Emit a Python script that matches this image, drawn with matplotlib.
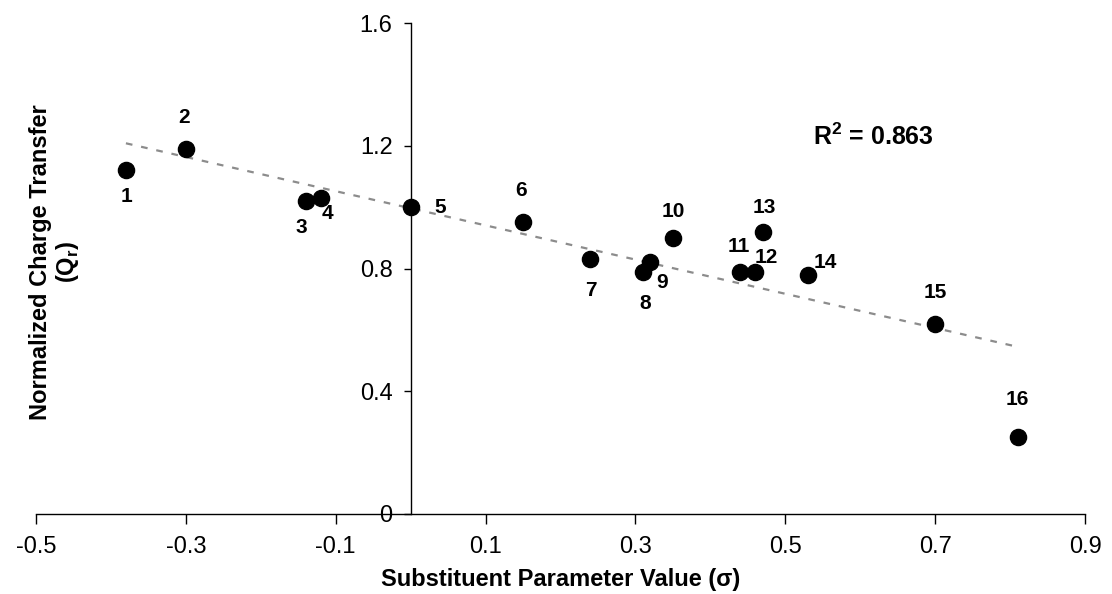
import numpy as np
import matplotlib
matplotlib.use("Agg")
import matplotlib.pyplot as plt

plt.rcParams['font.family'] = ['Liberation Sans', 'DejaVu Sans']
plt.rcParams['mathtext.fontset'] = 'custom'
plt.rcParams['mathtext.rm'] = 'Liberation Sans'
plt.rcParams['mathtext.bf'] = 'Liberation Sans:bold'

# substituent parameter (sigma) and normalized charge transfer
sigma = [-0.38, -0.30, -0.14, -0.12, 0.00, 0.15, 0.24, 0.31,
         0.32, 0.35, 0.44, 0.46, 0.47, 0.53, 0.70, 0.81]
qr = [1.12, 1.19, 1.02, 1.03, 1.00, 0.95, 0.83, 0.79,
      0.82, 0.90, 0.79, 0.79, 0.92, 0.78, 0.62, 0.25]
labels = [str(i) for i in range(1, 17)]
r2_text = 'R$^\\mathbf{2}$ = 0.863'

# label offsets (pixels) relative to each point
offsets = [(1, -26), (-2, 31), (-4, -27), (7, -16), (30, 0), (-2, 32),
           (0, -31), (2, -32), (12, -20), (0, 26), (-2, 25), (11, 14),
           (2, 24), (18, 12), (0, 31), (0, 38)]

fig = plt.figure(figsize=(11.12, 5.94), dpi=100)
ax = fig.add_axes([36 / 1112, 80 / 594, 1049 / 1112, 491 / 594])

# trendline
k, b = np.polyfit(sigma, qr, 1)
xs = np.array([min(sigma), max(sigma)])
ax.plot(xs, k * xs + b, color='#8c8c8c', lw=1.6, linestyle=(0, (3, 4)), zorder=2)

ax.scatter(sigma, qr, s=135, color='black', zorder=3)

for x, y, t, (dx, dy) in zip(sigma, qr, labels, offsets):
    ax.annotate(t, (x, y), xytext=(dx, dy), textcoords='offset pixels',
                ha='center', va='center', fontsize=15, fontweight='bold')

ax.text(0.617, 1.228, r2_text, fontsize=18, fontweight='bold', ha='center', va='center')

ax.set_xlim(-0.5, 0.9)
ax.set_ylim(0, 1.6)
ax.set_xticks(np.arange(-0.5, 0.91, 0.2))
ax.set_xticklabels(['-0.5', '-0.3', '-0.1', '0.1', '0.3', '0.5', '0.7', '0.9'])
ax.set_yticks([0, 0.4, 0.8, 1.2, 1.6])
ax.set_yticklabels(['0', '0.4', '0.8', '1.2', '1.6'])

ax.spines['left'].set_position(('data', 0))
ax.spines['right'].set_visible(False)
ax.spines['top'].set_visible(False)
for s in ['left', 'bottom']:
    ax.spines[s].set_linewidth(1.0)
ax.tick_params(axis='x', direction='out', length=7, width=1, labelsize=17, pad=9)
ax.tick_params(axis='y', direction='out', length=5, width=1, labelsize=17, pad=8)

ax.set_xlabel('Substituent Parameter Value (\u03c3)', fontsize=17, fontweight='bold', labelpad=7)
fig.text(55 / 1112, 1 - 262 / 594, 'Normalized Charge Transfer\n(Q$_\\mathbf{r}$)',
         rotation=90, ha='center', va='center', fontsize=17, fontweight='bold',
         linespacing=1.1, multialignment='center')

fig.savefig('out.png', dpi=100)
